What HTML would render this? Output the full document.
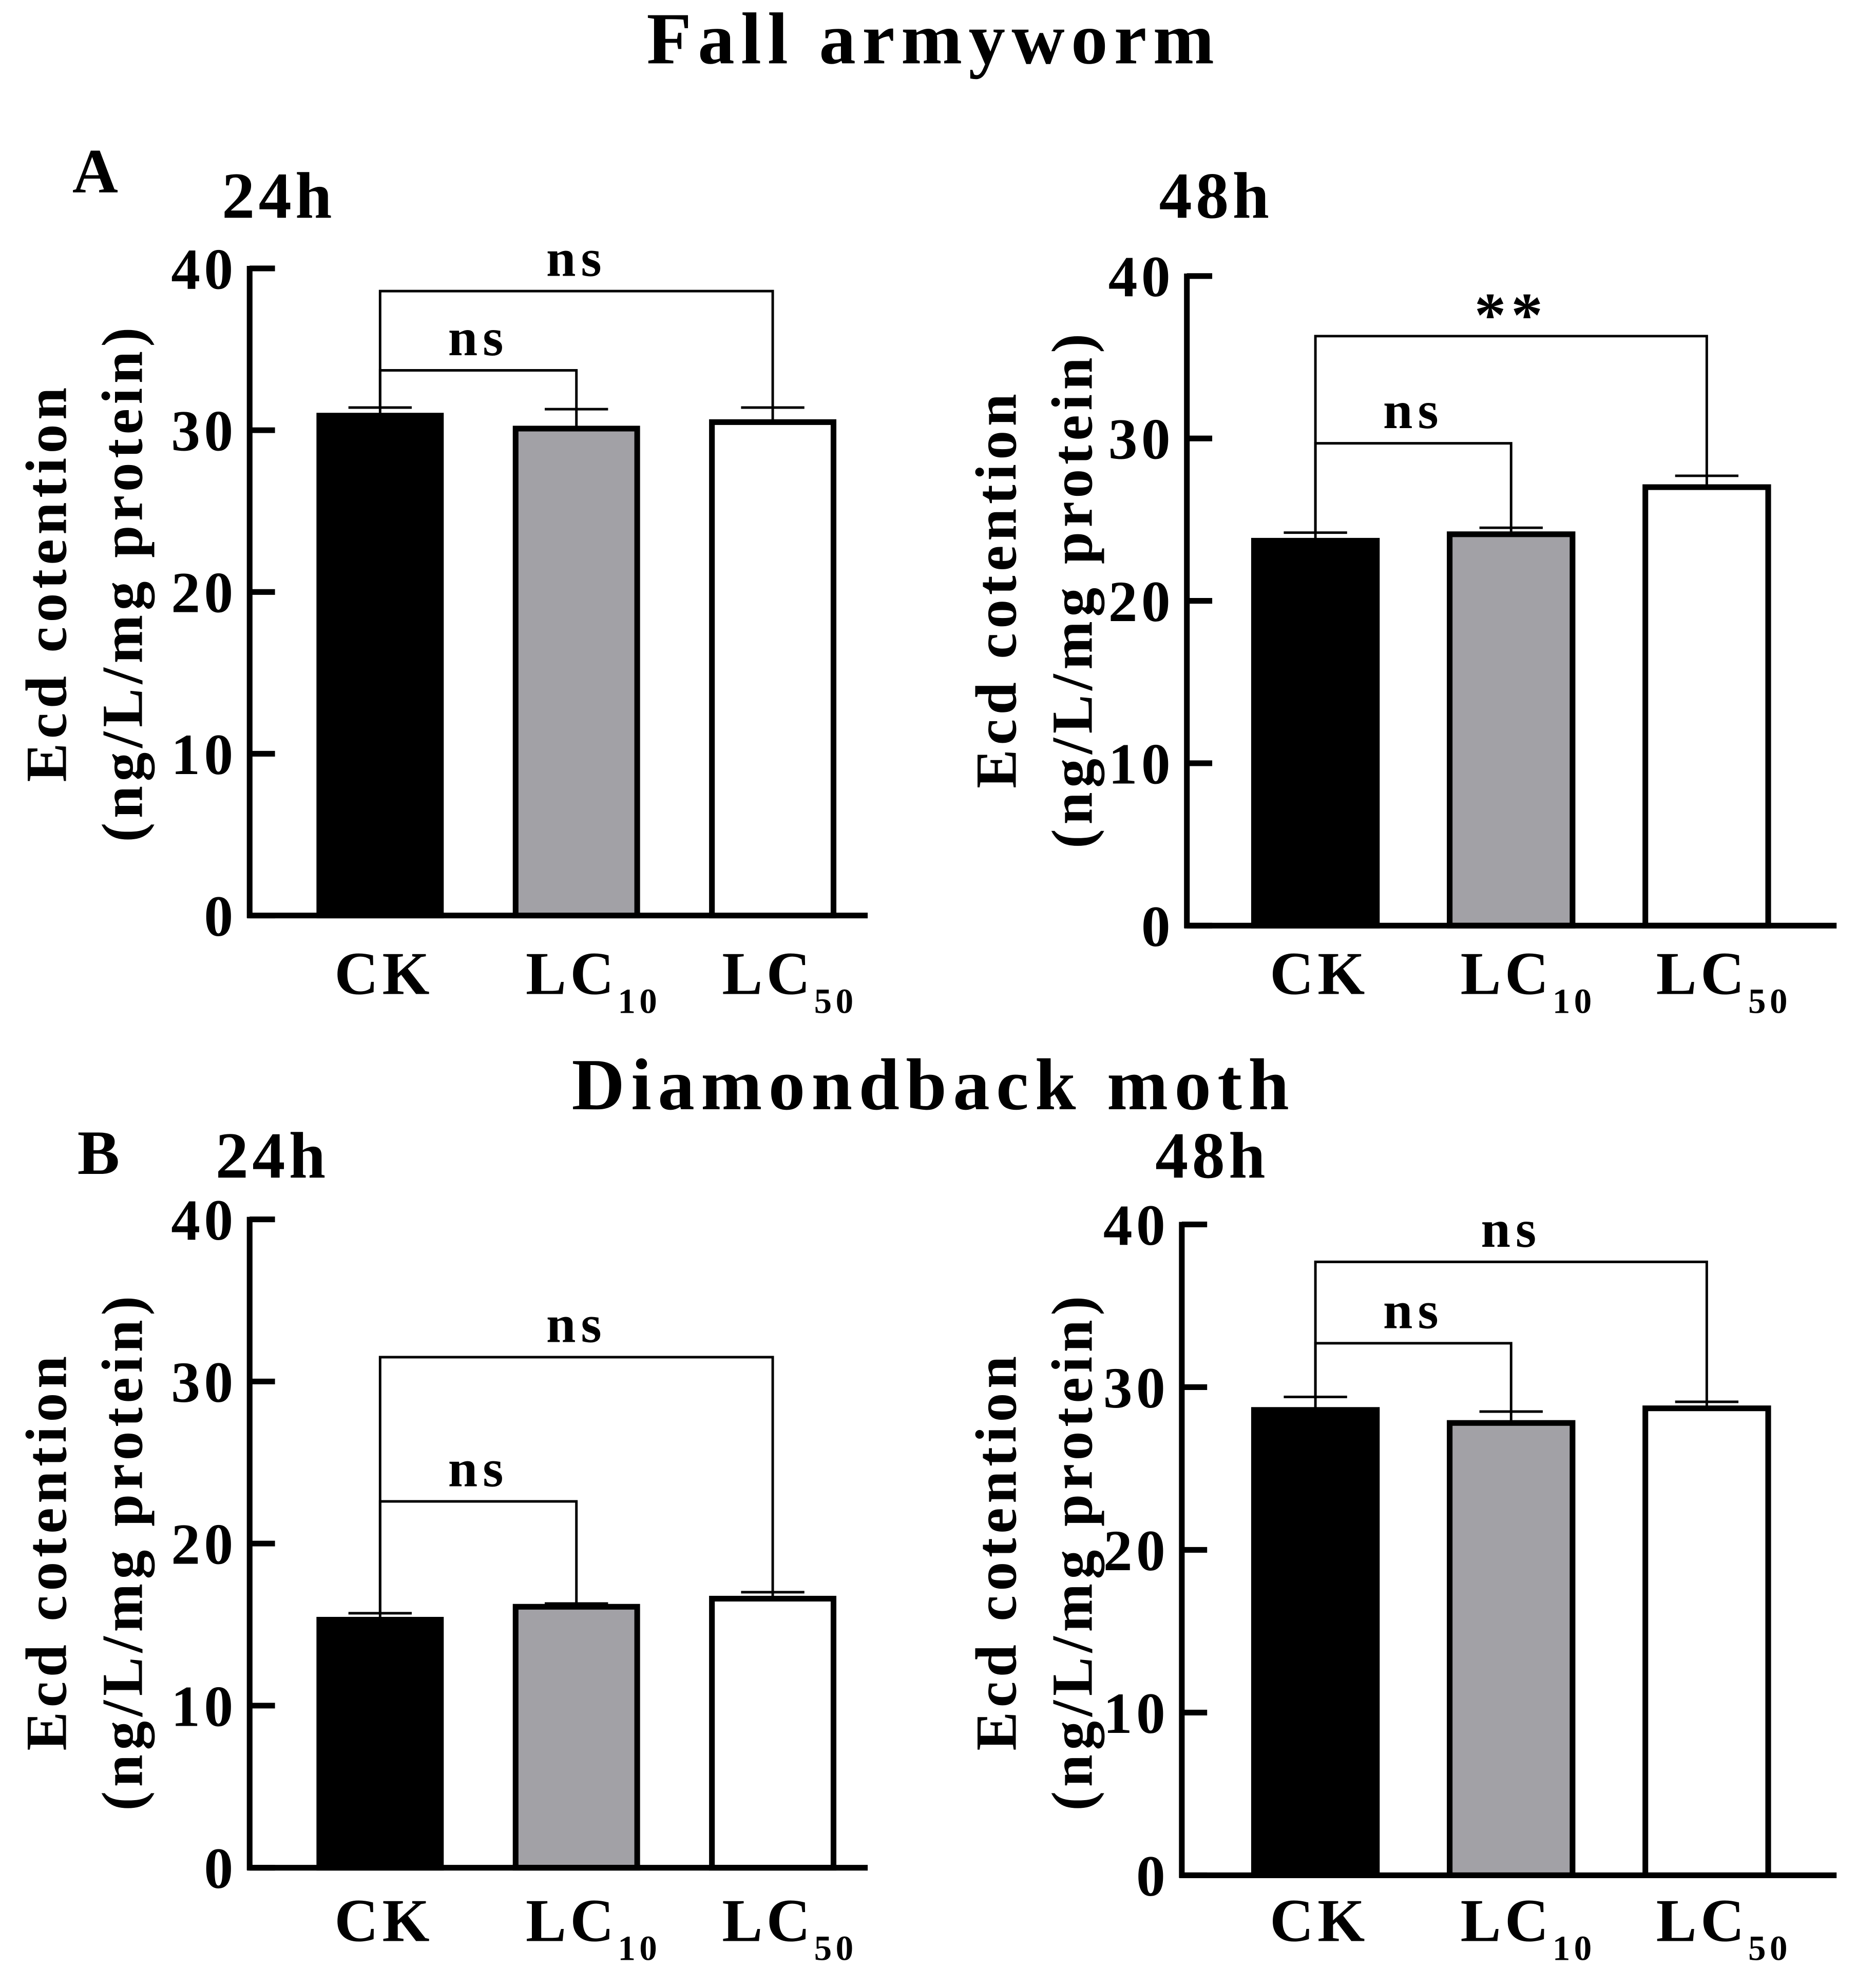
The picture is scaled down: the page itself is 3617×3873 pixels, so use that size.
<!DOCTYPE html>
<html><head><meta charset="utf-8"><style>
html,body{margin:0;padding:0;background:#fff;}
svg{display:block;}
text{font-family:"Liberation Serif",serif;font-weight:bold;fill:#000;}
</style></head><body>
<svg id="chart" width="3617" height="3873" viewBox="0 0 1466 1570" xmlns="http://www.w3.org/2000/svg">
<text x="737" y="50" font-size="58" text-anchor="middle" letter-spacing="5">Fall armyworm</text>
<text x="737" y="876" font-size="58" text-anchor="middle" letter-spacing="5">Diamondback moth</text>
<text x="57" y="152" font-size="50">A</text>
<text x="61" y="927" font-size="50">B</text>
<g id="panels"></g>
</svg>
<script>
const categories = ["CK", "LC", "LC"];
const subscripts = ["", "10", "50"];
const fills = ["#000000", "#a2a1a6", "#ffffff"];
const yTicks = [0, 10, 20, 30, 40];
const means_A24 = [30.9, 30.1, 30.5];
const errors_A24 = [0.5, 1.2, 0.9];
const means_A48 = [23.7, 24.1, 27.0];
const errors_A48 = [0.5, 0.4, 0.7];
const means_B24 = [15.3, 16.1, 16.6];
const errors_B24 = [0.4, 0.2, 0.4];
const means_B48 = [28.6, 27.8, 28.7];
const errors_B48 = [0.8, 0.7, 0.4];
const sig_A24 = [["ns", 1, 33.7], ["ns", 2, 38.6]];
const sig_A48 = [["ns", 1, 29.7], ["**", 2, 36.3]];
const sig_B24 = [["ns", 1, 22.6], ["ns", 2, 31.5]];
const sig_B48 = [["ns", 1, 32.7], ["ns", 2, 37.7]];
const panelTitles = ["24h", "48h", "24h", "48h"];

const NS = "http://www.w3.org/2000/svg";
const root = document.getElementById("panels");
function mk(tag, attrs, parent) {
  const e = document.createElementNS(NS, tag);
  for (const k in attrs) e.setAttribute(k, attrs[k]);
  parent.appendChild(e);
  return e;
}
const layouts = [
  {id:"a-24h", ax:197, y0:723, y40:212, xEnd:685, bar0:250, barW:100, gap:155, tx:220, ty:172, lx:50, ly:460, means:means_A24, errs:errors_A24, sig:sig_A24, labY:785},
  {id:"a-48h", ax:937, y0:731, y40:218, xEnd:1450, bar0:988, barW:101, gap:154.5, tx:960, ty:172, lx:800, ly:465, means:means_A48, errs:errors_A48, sig:sig_A48, labY:785},
  {id:"b-24h", ax:197, y0:1475, y40:963, xEnd:685, bar0:250, barW:100, gap:155, tx:215, ty:930, lx:50, ly:1225, means:means_B24, errs:errors_B24, sig:sig_B24, labY:1533},
  {id:"b-48h", ax:933, y0:1481, y40:967, xEnd:1450, bar0:988, barW:101, gap:154.5, tx:957, ty:930, lx:800, ly:1225, means:means_B48, errs:errors_B48, sig:sig_B48, labY:1533}
];
layouts.forEach((L, pi) => {
  const g = mk("g", {}, root);
  
  
  const y = v => L.y0 - (v / 40) * (L.y0 - L.y40);
  const xc = i => L.bar0 + L.barW / 2 + i * L.gap;
  const t = mk("text", {x:L.tx, y:L.ty, "font-size":52, "text-anchor":"middle", "letter-spacing":3}, g);
  t.textContent = panelTitles[pi];
  
  
  const yl = mk("text", {transform:`translate(${L.lx},${L.ly}) rotate(-90)`, "font-size":46, "text-anchor":"middle", "letter-spacing":3.5}, g);
  
  
  const t1 = mk("tspan", {x:0, y:2}, yl); t1.textContent = "Ecd cotention";
  const t2 = mk("tspan", {x:0, y:62}, yl); t2.textContent = "(ng/L/mg protein)";
  L.means.forEach((m, i) => {
    const r = mk("rect", {x:xc(i) - L.barW/2 + 2, y:y(m), width:L.barW - 4, height:L.y0 - y(m), fill:fills[i], stroke:"#000", "stroke-width":4.5}, g);
    
    
    const et = y(m + L.errs[i]);
    const e1 = mk("line", {x1:xc(i), x2:xc(i), y1:y(m), y2:et, stroke:"#000", "stroke-width":2}, g);
    
    
    const e2 = mk("line", {x1:xc(i) - 25, x2:xc(i) + 25, y1:et, y2:et, stroke:"#000", "stroke-width":2}, g);
    
    
    const xl = subscripts[i]
      ? mk("text", {x:xc(i) - 40, y:L.labY, "font-size":48, "text-anchor":"start", "letter-spacing":3}, g)
      : mk("text", {x:xc(i) + 3, y:L.labY, "font-size":48, "text-anchor":"middle", "letter-spacing":3}, g);
    
    
    xl.appendChild(document.createTextNode(categories[i]));
    if (subscripts[i]) { const s = mk("tspan", {"font-size":28, dy:15}, xl); s.textContent = subscripts[i]; }
  });
  const ya = mk("line", {x1:L.ax, x2:L.ax, y1:L.y40 - 2, y2:L.y0 + 2, stroke:"#000", "stroke-width":4.5}, g);
  
  
  const xa = mk("line", {x1:L.ax - 2, x2:L.xEnd, y1:L.y0, y2:L.y0, stroke:"#000", "stroke-width":4.5}, g);
  
  
  yTicks.forEach(v => {
    const tk = mk("line", {x1:L.ax, x2:L.ax + 20, y1:y(v), y2:y(v), stroke:"#000", "stroke-width":4.5}, g);
    
    
    const tl = mk("text", {x:L.ax - 10, y:y(v) + 16, "font-size":46, "text-anchor":"end", "letter-spacing":3}, g);
    tl.textContent = v;
    
    
  });
  L.sig.forEach(s => {
    const [lab, j, lv] = s;
    const by = y(lv);
    const x0 = xc(0), x1 = xc(j);
    const p = mk("polyline", {points:`${x0},${y(L.means[0] + L.errs[0])} ${x0},${by} ${x1},${by} ${x1},${y(L.means[j] + L.errs[j])}`, fill:"none", stroke:"#000", "stroke-width":2}, g);
    
    
    const st = mk("text", {x:(x0 + x1) / 2, y:by - (lab === "**" ? 0 : 12), "font-size": lab === "**" ? 50 : 42, "text-anchor":"middle", "letter-spacing":4}, g);
    st.textContent = lab;
    
    
  });
});
</script>
</body></html>
